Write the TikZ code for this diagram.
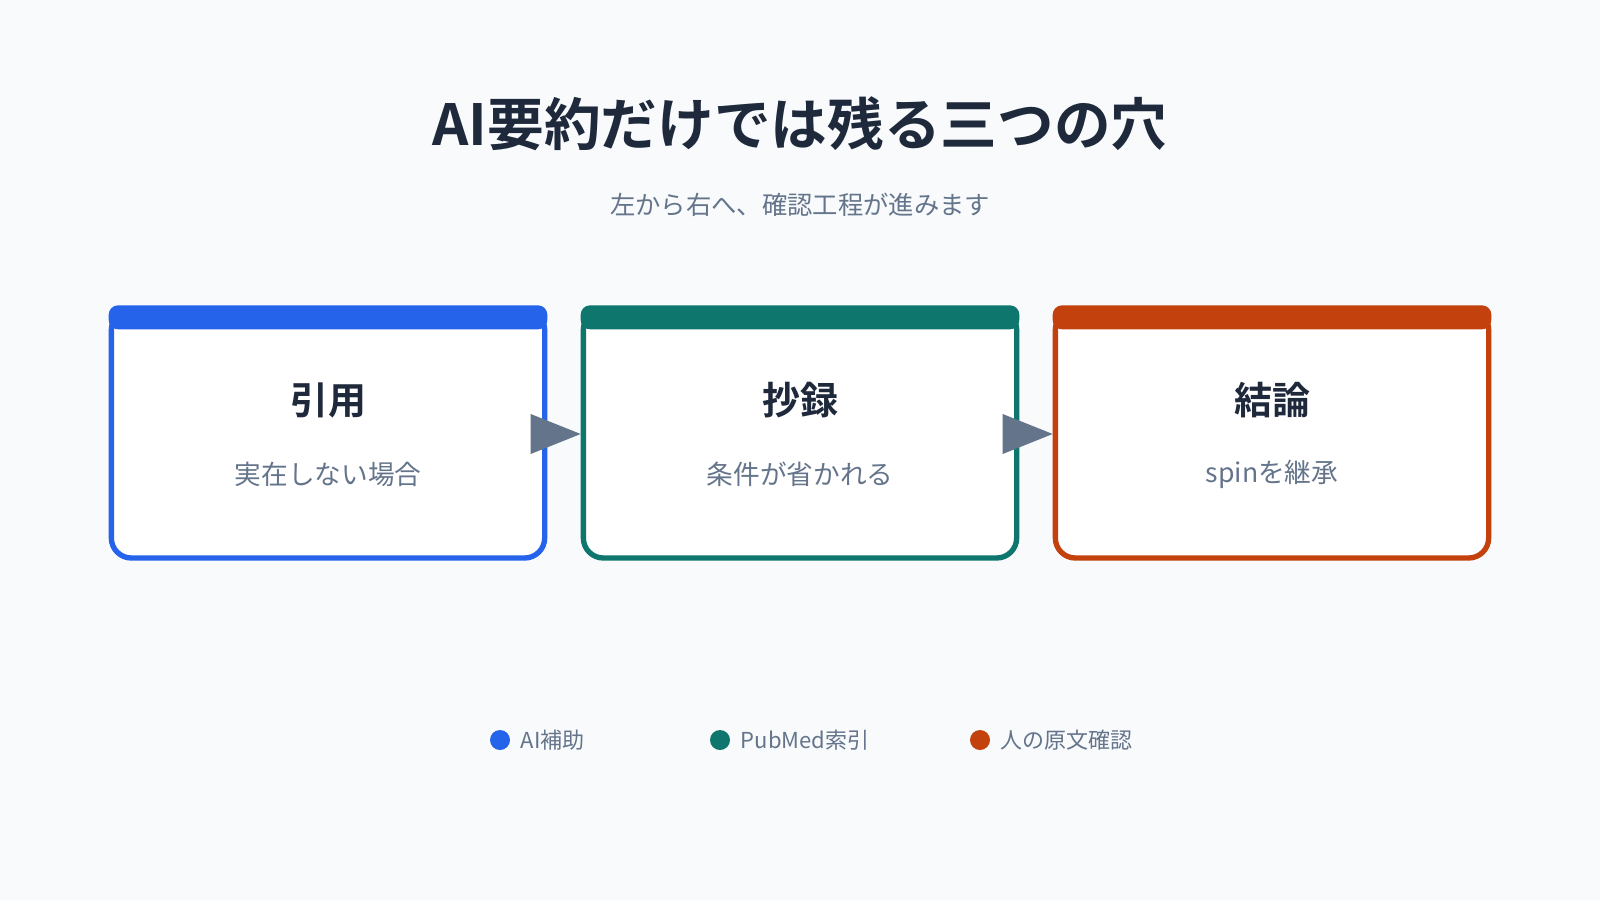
\documentclass[tikz,border=0pt]{standalone}
\usepackage{fontspec}
\setmainfont{Noto Sans CJK JP}[BoldFont={Noto Sans CJK JP Bold}]
\usetikzlibrary{calc,positioning}
\definecolor{bgcol}{HTML}{F8FAFC}
\definecolor{ink}{HTML}{1E293B}
\definecolor{mute}{HTML}{64748B}
\definecolor{cblue}{HTML}{2563EB}
\definecolor{cgreen}{HTML}{0F766E}
\definecolor{corange}{HTML}{C2410C}
\tikzset{
  step/.style={draw=#1,line width=4pt,fill=white,rounded corners=15pt,
    minimum width=325pt,minimum height=186pt,inner sep=0pt},
  band/.style={fill=#1,rounded corners=7pt},
  head/.style={font=\bfseries\fontsize{28.5}{32}\selectfont,text=ink},
  sub/.style={font=\fontsize{20}{23}\selectfont,text=mute},
  dot/.style={circle,fill=#1,minimum size=15pt,inner sep=0pt},
  key/.style={font=\fontsize{16.5}{19}\selectfont,text=mute,anchor=west},
  tip/.style={fill=mute}
}
\begin{document}
\begin{tikzpicture}[x=0.75pt,y=-0.75pt]
  \fill[bgcol] (0,0) rectangle (1600,900);
  \useasboundingbox (0,0) rectangle (1600,900);

  \node (title) at (800,124) [font=\bfseries\fontsize{42.5}{48}\selectfont,text=ink] {AI要約だけでは残る三つの穴};
  \node (subtitle) at (800,205) [font=\fontsize{19}{22}\selectfont,text=mute] {左から右へ、確認工程が進みます};

  % steps
  \node (cite) at (328,434) [step=cblue] {};
  \node (copy) at (800,434) [step=cgreen] {};
  \node (concl) at (1272,434) [step=corange] {};
  \foreach \n/\c in {cite/cblue,copy/cgreen,concl/corange}
    \fill[band=\c] ($(\n.north west)+(0,-2)$) rectangle ($(\n.north east)+(0,22)$);

  \node at ($(cite.center)+(0,-34)$) [head] {引用};
  \node at ($(cite.center)+(0,40)$) [sub] {実在しない場合};
  \node at ($(copy.center)+(0,-34)$) [head] {抄録};
  \node at ($(copy.center)+(0,40)$) [sub] {条件が省かれる};
  \node at ($(concl.center)+(0,-34)$) [head] {結論};
  \node at ($(concl.center)+(0,40)$) [sub] {spinを継承};

  % arrows
  \fill[tip] ($(copy.west)+(-50,-20)$) -- (copy.west) -- ($(copy.west)+(-50,20)$) -- cycle;
  \fill[tip] ($(concl.west)+(-50,-20)$) -- (concl.west) -- ($(concl.west)+(-50,20)$) -- cycle;

  % legend
  \node (k1) at (500,740) [dot=cblue] {};
  \node at ($(k1.east)+(6,0)$) [key] {AI補助};
  \node (k2) at (720,740) [dot=cgreen] {};
  \node at ($(k2.east)+(6,0)$) [key] {PubMed索引};
  \node (k3) at (980,740) [dot=corange] {};
  \node at ($(k3.east)+(6,0)$) [key] {人の原文確認};
\end{tikzpicture}
\end{document}
